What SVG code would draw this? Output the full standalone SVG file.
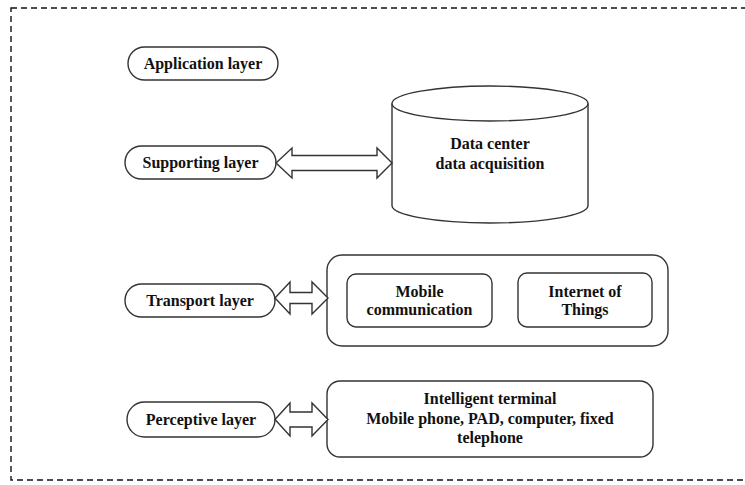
<svg xmlns="http://www.w3.org/2000/svg" width="745" height="485" viewBox="0 0 745 485">
<style>
.bg{fill:#fff}
.frame{fill:none;stroke:#111;stroke-width:1.4;stroke-dasharray:6 4}
.shape{fill:#fff;stroke:#333;stroke-width:1.4}
.t{font-family:'Liberation Serif','DejaVu Serif',serif;font-weight:700;font-size:16px;fill:#111;text-anchor:middle}
</style>
<rect class="bg" x="0" y="0" width="745" height="485"/>
<rect class="frame" x="11" y="8" width="745" height="472"/>
<g id="application-layer">
<rect class="shape" x="128" y="47" width="150" height="33" rx="16.5"/>
<text class="t" x="203" y="69">Application layer</text>
</g>
<g id="supporting-layer">
<rect class="shape" x="125" y="146" width="151" height="33" rx="16.5"/>
<text class="t" x="200.5" y="168">Supporting layer</text>
</g>
<g id="data-center">
<path class="shape" d="M392,103.5 L392,205.5 A98,17.5 0 0 0 588,205.5 L588,103.5"/>
<ellipse class="shape" cx="490" cy="103.5" rx="98" ry="17.5"/>
<text class="t" x="490" y="149">Data center</text>
<text class="t" x="490" y="169">data acquisition</text>
</g>
<g id="transport-layer">
<rect class="shape" x="125" y="284" width="150" height="33" rx="16.5"/>
<text class="t" x="200" y="306">Transport layer</text>
</g>
<g id="transport-box">
<rect class="shape" x="327" y="255" width="341" height="91" rx="15"/>
</g>
<g id="mobile-communication">
<rect class="shape" x="347" y="274" width="145" height="53" rx="9"/>
<text class="t" x="419.5" y="297">Mobile</text>
<text class="t" x="419.5" y="315">communication</text>
</g>
<g id="internet-of-things">
<rect class="shape" x="518" y="273" width="134" height="54" rx="9"/>
<text class="t" x="585" y="297">Internet of</text>
<text class="t" x="585" y="315">Things</text>
</g>
<g id="perceptive-layer">
<rect class="shape" x="127" y="402" width="148" height="35" rx="17.5"/>
<text class="t" x="201" y="425">Perceptive layer</text>
</g>
<g id="terminal-box">
<rect class="shape" x="327" y="381" width="326" height="76" rx="13"/>
<text class="t" x="490" y="404">Intelligent terminal</text>
<text class="t" x="490" y="424">Mobile phone, PAD, computer, fixed</text>
<text class="t" x="490" y="443">telephone</text>
</g>
<g id="connectors">
<polygon class="shape" points="276,163 292,148 292,155.5 377,155.5 377,148 392,163 377,178 377,170.5 292,170.5 292,178"/>
<polygon class="shape" points="275,298 290,282 290,292.5 312,292.5 312,282 328,298 312,314 312,303.5 290,303.5 290,314"/>
<polygon class="shape" points="275,419.5 290,403 290,412 312,412 312,403 328,419.5 312,436 312,427 290,427 290,436"/>
</g>
</svg>
